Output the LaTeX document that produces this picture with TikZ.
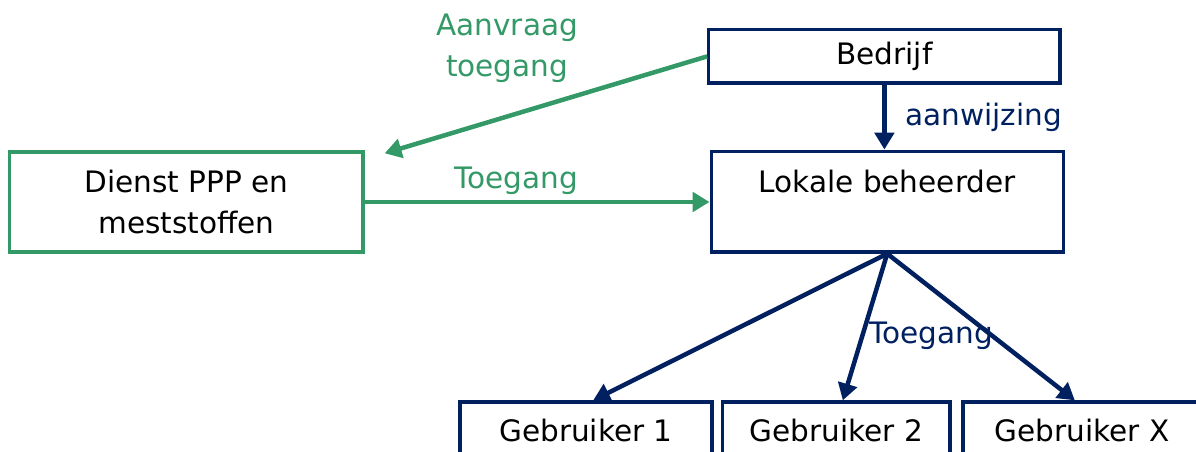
\documentclass[tikz,border=0pt]{standalone}
\usepackage{fontspec}
\setmainfont{DejaVu Sans}
\usetikzlibrary{arrows.meta}
\definecolor{navy}{RGB}{0,32,96}
\definecolor{ppgreen}{RGB}{51,153,102}
\tikzset{
  bluebox/.style={draw=navy,line width=2.4pt,fill=white,inner sep=0pt},
  greenbox/.style={draw=ppgreen,line width=2.4pt,fill=white,inner sep=0pt},
  navyarrow/.style={draw=navy,line width=3.2pt,-{Triangle[length=0.42cm,width=0.48cm]}},
  greenarrow/.style={draw=ppgreen,line width=3.2pt,-{Triangle[length=0.42cm,width=0.48cm]}}
}
\begin{document}
\begin{tikzpicture}[font=\fontsize{21}{29}\selectfont]
\useasboundingbox (0,0) rectangle (29.9,-11.3);
\clip (0,0) rectangle (29.9,-11.3);
% boxes
\node[bluebox,minimum width=8.78cm,minimum height=1.33cm] (bedrijf) at (22.11,-1.41) {Bedrijf};
\node[greenbox,minimum width=8.83cm,minimum height=2.5cm,align=center]
  (dienst) at (4.66,-5.05) {Dienst PPP en\\meststoffen};
\node[bluebox,minimum width=8.8cm,minimum height=2.52cm] (lokale) at (22.18,-5.04) {};
\node[anchor=north] (lokaletxt) at ([yshift=-0.38cm]lokale.north) {Lokale beheerder};
\node[bluebox,minimum width=6.3cm,minimum height=1.4cm] (g1) at (14.65,-10.75) {Gebruiker 1};
\node[bluebox,minimum width=5.68cm,minimum height=1.4cm] (g2) at (20.91,-10.75) {Gebruiker 2};
\node[bluebox,minimum width=5.95cm,minimum height=1.4cm] (gx) at (27.05,-10.75) {Gebruiker X};
% green part
\node[text=ppgreen,align=center] (aanvraag) at (12.68,-1.2) {Aanvraag\\toegang};
\draw[greenarrow] (bedrijf.west) -- ([xshift=0.5cm,yshift=-0.075cm]dienst.north east);
\draw[greenarrow] (dienst.east) -- (dienst.east -| lokale.west)
  node[above,pos=0.44,text=ppgreen] (toegang1) {Toegang};
% blue part
\draw[navyarrow] (bedrijf.south) -- (bedrijf.south |- lokale.north)
  node[right,midway,xshift=0.35cm,text=navy] (aanwijzing) {aanwijzing};
\draw[navyarrow] (lokale.south) -- ([xshift=0.18cm]g1.north);
\draw[navyarrow] (lokale.south) -- ([xshift=0.16cm]g2.north)
  node[right,pos=0.56,text=navy] (toegang2) {Toegang};
\draw[navyarrow] (lokale.south) -- ([xshift=-0.18cm]gx.north);
\end{tikzpicture}
\end{document}
